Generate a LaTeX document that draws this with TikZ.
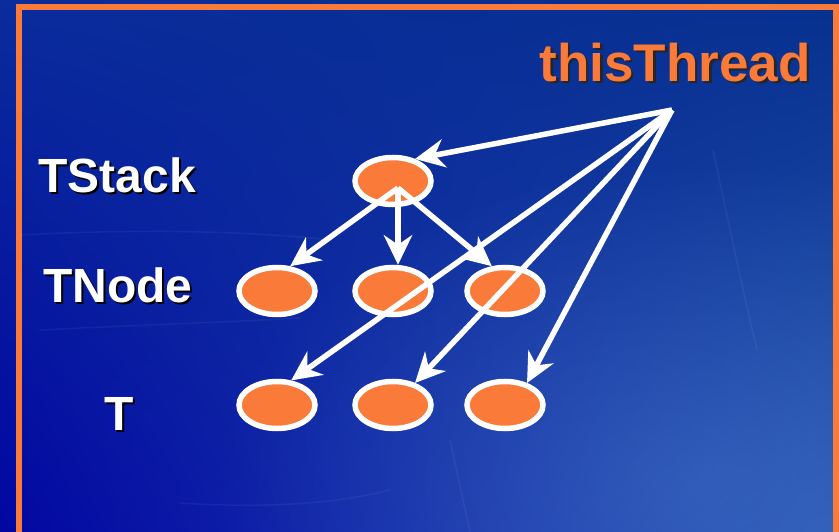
\documentclass[tikz,border=0pt]{standalone}
\usepackage{fontspec}
\setmainfont{Liberation Sans}
\usetikzlibrary{arrows.meta,shapes.geometric,fadings,shadings}

\definecolor{bgul}{HTML}{0A2C9C}
\definecolor{bgur}{HTML}{06308E}
\definecolor{bgll}{HTML}{0206A2}
\definecolor{bglr}{HTML}{2A58B4}
\definecolor{bgglow}{HTML}{4C7CCC}
\definecolor{accent}{HTML}{FA7A3A}

\tikzfading[name=glowfade, inner color=transparent!60, outer color=transparent!100]

\tikzset{
  elem/.style={ellipse, draw=white, fill=accent, line width=5.5pt,
               minimum width=76pt, minimum height=47pt, inner sep=0pt},
  ptr/.style={draw=white, line width=5.5pt,
              -{Stealth[length=30pt, width=29pt, inset=10pt, line width=0pt]}},
  lbl/.style={font=\bfseries\fontsize{48}{48}\selectfont, text=white,
              anchor=base, inner sep=0pt},
  lblshadow/.style={lbl, text=black},
  title/.style={font=\bfseries\fontsize{53}{53}\selectfont, text=accent,
                anchor=base, inner sep=0pt},
  titleshadow/.style={title, text=black!85},
  streak/.style={white, line width=1.5pt, opacity=0.05, line cap=round}
}

\begin{document}
\begin{tikzpicture}[x=1pt, y=-1pt]
  \useasboundingbox (0,0) rectangle (839,532);

  % background: deep blue, lighter toward the lower right
  \shade[upper left=bgul, upper right=bgur, lower left=bgll, lower right=bglr]
    (0,0) rectangle (839,532);
  \clip (0,0) rectangle (839,532);
  \fill[bgglow, path fading=glowfade, fit fading=true]
    (700,480) ellipse [x radius=480, y radius=320];
  % faint light streaks
  \draw[streak] (20,235) .. controls (150,228) and (260,232) .. (330,240);
  \draw[streak] (40,330) .. controls (140,325) and (230,322) .. (300,318);
  \draw[streak] (180,503) .. controls (260,508) and (330,505) .. (390,490);
  \draw[streak] (713,150) .. controls (730,230) and (745,300) .. (757,350);
  \draw[streak] (450,440) -- (470,532);

  % orange frame
  \draw[accent, line width=5.5pt] (19,6.8) rectangle (836,560);

  % row labels
  \node[lblshadow] (tstackS) at (119,195) {TStack};
  \node[lbl]       (tstack)  at (117,193) {TStack};
  \node[lblshadow] (tnodeS)  at (120,304) {TNode};
  \node[lbl]       (tnode)   at (118,302) {TNode};
  \node[lblshadow] (tS)      at (121,432) {T};
  \node[lbl]       (t)       at (119,430) {T};

  \node[titleshadow] (threadS) at (677.5,84) {thisThread};
  \node[title]       (thread)  at (675,82)   {thisThread};

  % elements
  \node[elem] (ts) at (393,181) {};
  \node[elem] (n1) at (277,291) {};
  \node[elem] (n2) at (393,291) {};
  \node[elem] (n3) at (505,291) {};
  \node[elem] (t1) at (277,405) {};
  \node[elem] (t2) at (393,405) {};
  \node[elem] (t3) at (505,405) {};

  \coordinate (src)  at (672,110);
  \coordinate (fork) at (398,188);

  % stack to its nodes
  \draw[ptr] (fork) -- (n1.62);
  \draw[ptr] (fork) -- (fork |- n2.north);
  \draw[ptr] (fork) -- (n3.118);

  % thread to stack and to every item
  \draw[ptr] (src) -- (ts.45);
  \draw[ptr] (src) -- (t1.60);
  \draw[ptr] (src) -- (t2.45);
  \draw[ptr] (src) -- (t3.45);
\end{tikzpicture}
\end{document}
